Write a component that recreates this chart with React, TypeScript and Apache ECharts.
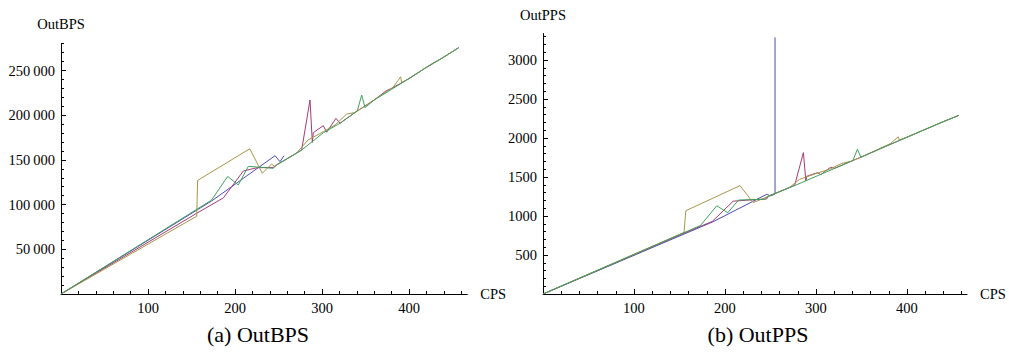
import React, { useEffect, useRef } from "react";
import * as echarts from "echarts";

// ---- tick labels ----
const cpsTicks = [100, 200, 300, 400];
const bpsTicks = [50000, 100000, 150000, 200000, 250000];
const ppsTicks = [500, 1000, 1500, 2000, 2500, 3000];

// ---- OutBPS series: [CPS, OutBPS] ----
const blueBPS = [[0, 0], [173, 104000], [246, 154700], [251.7, 148000], [256.3, 154700]];
const magentaBPS = [
  [0, 0], [156, 90300], [186.6, 107500], [209.6, 137600], [225, 141200], [244, 141700], [248, 144500],
  [276.6, 161000], [286.2, 217000], [288.9, 169500], [290, 180500], [301.5, 188300], [305.4, 181000],
  [316, 196500], [320.7, 191000], [340, 204500], [360, 217000], [374, 227500], [380, 230000],
  [400, 241000], [420, 253500], [440, 265000], [457, 275500],
];
const oliveBPS = [
  [0, 0], [156, 87000], [157, 127000], [217, 162500], [231.4, 135000], [242, 145400], [246, 142400],
  [248, 144500], [270, 157000], [284, 172300], [301.5, 181600], [315, 189000], [328.4, 201300],
  [338, 203000], [350, 210500], [382, 231500], [390.4, 243000], [391.6, 236500], [400, 241000],
  [426, 257500], [440, 265000], [457, 275500],
];
const greenBPS = [
  [0, 0], [173, 105000], [191.6, 131500], [203.8, 122000], [215.3, 142800], [244, 140600], [248, 144500],
  [276.6, 161000], [301.5, 180400], [320.7, 191000], [340.6, 205000], [345.6, 222600], [349.4, 208500],
  [360, 217000], [380, 229000], [400, 241000], [420, 253500], [440, 265000], [457, 275500],
];

// ---- OutPPS series: [CPS, OutPPS] ----
const bluePPS = [[0, 0], [187, 927], [245.8, 1278], [250.5, 1258], [255, 1282], [255, 3290]];
const magentaPPS = [
  [0, 0], [156, 785], [186, 930], [209, 1190], [224, 1203], [245.8, 1218], [248, 1255],
  [276.6, 1395], [286.2, 1812], [288.9, 1450], [290, 1510], [301.5, 1555], [305.4, 1530],
  [316, 1625], [320.7, 1612], [340, 1708], [360, 1808], [380, 1910], [400, 2010], [420, 2110],
  [440, 2210], [457, 2290],
];
const olivePPS = [
  [0, 0], [155, 790], [157, 1068], [216.5, 1389], [231, 1172], [240, 1214], [248, 1255],
  [270, 1358], [282, 1470], [300.8, 1547], [315, 1600], [328.4, 1675], [338, 1700], [350, 1757],
  [382, 1930], [390.4, 2015], [391.6, 1975], [400, 2010], [426, 2140], [440, 2210], [457, 2290],
];
const greenPPS = [
  [0, 0], [173, 878], [191, 1132], [203, 1042], [215, 1205], [244, 1215], [248, 1255],
  [276.6, 1390], [301.5, 1515], [320.7, 1612], [340.6, 1712], [345.6, 1855], [349.4, 1752],
  [360, 1808], [380, 1910], [400, 2010], [420, 2110], [440, 2210], [457, 2290],
];

const captions = ["(a) OutBPS", "(b) OutPPS"];
const colors = { blue: "#4b4bb6", magenta: "#a63a76", olive: "#a8964a", green: "#3fa05e" };

const FONT = "'Liberation Serif', 'Times New Roman', serif";

function steps(step: number, max: number) {
  const out: number[] = [];
  for (let v = step; v <= max; v += step) out.push(v);
  return out;
}

function fmtThousands(v: number) {
  if (v < 10000) return String(v);
  const hi = Math.floor(v / 1000);
  const lo = String(v % 1000).padStart(3, "0");
  return hi + "\u2009" + lo;
}

export default function App() {
  const ref = useRef<HTMLDivElement>(null);
  useEffect(() => {
    if (!ref.current) return;
    const chart = echarts.init(ref.current, undefined, { renderer: "svg" });
    const black = "#000";
    const textStyle = { color: black, fontSize: 14.5, fontFamily: FONT };

    const majorX = (grid: number, max: number) => ({
      type: "value", gridIndex: grid, min: 0, max, position: "bottom",
      name: "CPS", nameLocation: "end", nameGap: 13, nameTextStyle: { ...textStyle, align: "left", verticalAlign: "middle" },
      axisLine: { show: true, onZero: false, lineStyle: { color: black, width: 1 } },
      axisTick: { show: true, inside: true, length: 5, customValues: cpsTicks, lineStyle: { color: black, width: 1 } },
      axisLabel: { show: true, customValues: cpsTicks, margin: 6, ...textStyle },
      splitLine: { show: false },
    });
    const minorX = (grid: number, max: number) => ({
      type: "value", gridIndex: grid, min: 0, max, position: "bottom",
      axisLine: { show: false, onZero: false },
      axisTick: { show: true, inside: true, length: 3, customValues: steps(20, 460), lineStyle: { color: black, width: 1 } },
      axisLabel: { show: false },
      splitLine: { show: false },
    });
    const majorY = (grid: number, max: number, name: string, ticks: number[], gap: number, fmt: (v: number) => string) => ({
      type: "value", gridIndex: grid, min: 0, max, position: "left",
      name, nameLocation: "end", nameGap: gap, nameTextStyle: { ...textStyle },
      axisLine: { show: true, onZero: false, lineStyle: { color: black, width: 1 } },
      axisTick: { show: true, inside: true, length: 5, customValues: ticks, lineStyle: { color: black, width: 1 } },
      axisLabel: { show: true, customValues: ticks, margin: 6, formatter: fmt, ...textStyle },
      splitLine: { show: false },
    });
    const minorY = (grid: number, max: number, minor: number[]) => ({
      type: "value", gridIndex: grid, min: 0, max, position: "left",
      axisLine: { show: false, onZero: false },
      axisTick: { show: true, inside: true, length: 3, customValues: minor, lineStyle: { color: black, width: 1 } },
      axisLabel: { show: false },
      splitLine: { show: false },
    });

    const line = (data: number[][], color: string, axis: number) => ({
      type: "line", xAxisIndex: axis, yAxisIndex: axis, data,
      showSymbol: false, symbol: "none", silent: true,
      lineStyle: { width: 1, color }, itemStyle: { color },
      emphasis: { disabled: true },
    });

    chart.setOption({
      animation: false,
      backgroundColor: "#fff",
      grid: [
        { left: 61, top: 43.7, width: 406.3, height: 250.3 },
        { left: 543, top: 33.5, width: 424, height: 260.5 },
      ],
      xAxis: [majorX(0, 467), minorX(0, 467), majorX(1, 466), minorX(1, 466)],
      yAxis: [
        majorY(0, 280000, "OutBPS", bpsTicks, 12, fmtThousands),
        minorY(0, 280000, steps(10000, 280000)),
        majorY(1, 3340, "OutPPS", ppsTicks, 11, (v: number) => String(v)),
        minorY(1, 3340, steps(100, 3300)),
      ],
      series: [
        line(blueBPS, colors.blue, 0),
        line(magentaBPS, colors.magenta, 0),
        line(oliveBPS, colors.olive, 0),
        line(greenBPS, colors.green, 0),
        line(bluePPS, colors.blue, 2),
        line(magentaPPS, colors.magenta, 2),
        line(olivePPS, colors.olive, 2),
        line(greenPPS, colors.green, 2),
      ],
      graphic: [
        { type: "text", x: 258, y: 334, style: { text: captions[0], font: `22px ${FONT}`, fill: black, textAlign: "center", textVerticalAlign: "middle", align: "center", verticalAlign: "middle" } },
        { type: "text", x: 758, y: 334, style: { text: captions[1], font: `22px ${FONT}`, fill: black, textAlign: "center", textVerticalAlign: "middle", align: "center", verticalAlign: "middle" } },
      ],
    });
    return () => chart.dispose();
  }, []);
  return <div ref={ref} style={{ position: "absolute", left: 0, top: 0, width: 1009, height: 354 }} />;
}
